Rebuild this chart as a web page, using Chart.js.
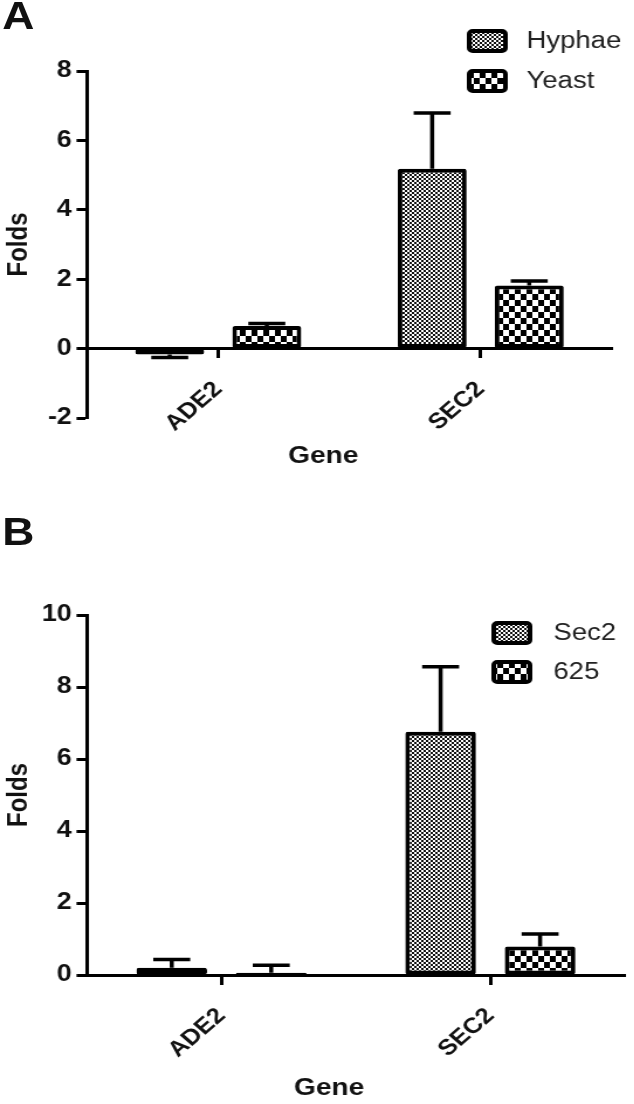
<!DOCTYPE html>
<html>
<head>
<meta charset="utf-8">
<script src="https://cdn.jsdelivr.net/npm/chart.js@4.4.1/dist/chart.umd.min.js"></script>
<style>
  html, body { margin: 0; background: #fff; overflow: hidden; }
  /* the original figure is stretched horizontally, so the whole page is drawn narrow and scaled */
  #fig { position: absolute; left: 0; top: 0; width: 542px; height: 1104px; transform: scaleX(1.17); transform-origin: 0 0; }
  .panel { position: absolute; left: 0; display: block; }
  .tag { position: absolute; left: 2px; font: bold 38px 'Liberation Sans', Arial, sans-serif; line-height: 38px; color: #111; }
</style>
</head>
<body>
<div id="fig">
  <canvas id="chartA" class="panel" width="542" height="480" style="top:0"></canvas>
  <div class="tag" style="top:-3px">A</div>
  <canvas id="chartB" class="panel" width="542" height="604" style="top:500px"></canvas>
  <div class="tag" style="top:513px">B</div>
</div>
<script>
// datos
const genes = ['ADE2', 'SEC2'];

// panel A
const hyphaeFolds = [-0.17, 5.18];
const hyphaeErr   = [0.09, 1.61];
const yeastFolds  = [0.65, 1.82];
const yeastErr    = [0.07, 0.13];
const ticksA = { min: -2, max: 8, step: 2 };

// panel B
const sec2Folds   = [0.2, 6.76];
const sec2Err     = [0.23, 1.8];
const s625Folds   = [0.06, 0.79];
const s625Err     = [0.21, 0.35];
const ticksB = { min: 0, max: 10, step: 2 };

const FONT = "'Liberation Sans', Arial, sans-serif";
const INK = '#111';

// fine dotted fill (Hyphae / Sec2)
function finePattern() {
  const c = document.createElement('canvas');
  c.width = 4; c.height = 4;
  const g = c.getContext('2d');
  g.fillStyle = '#fff'; g.fillRect(0, 0, 4, 4);
  g.fillStyle = '#111';
  g.fillRect(0, 0, 2, 2); g.fillRect(2, 2, 2, 2);
  return g.createPattern(c, 'repeat');
}

// coarse checker fill (Yeast / 625)
function coarsePattern() {
  const c = document.createElement('canvas');
  c.width = 10; c.height = 12;
  const g = c.getContext('2d');
  g.fillStyle = '#fff'; g.fillRect(0, 0, 10, 12);
  g.fillStyle = '#000';
  g.fillRect(0, 0, 5, 6); g.fillRect(5, 6, 5, 6);
  return g.createPattern(c, 'repeat');
}

// error bars, away from zero
const errorBars = {
  id: 'errorBars',
  afterDatasetsDraw(chart, args, opts) {
    const { ctx } = chart;
    const y = chart.scales.y;
    ctx.save();
    ctx.strokeStyle = '#000';
    ctx.lineWidth = opts.width;
    chart.data.datasets.forEach((ds, i) => {
      chart.getDatasetMeta(i).data.forEach((bar, j) => {
        const v = ds.data[j], e = ds.errors[j];
        const base = y.getPixelForValue(v);
        const tip = y.getPixelForValue(v < 0 ? v - e : v + e);
        ctx.beginPath();
        ctx.moveTo(bar.x, base); ctx.lineTo(bar.x, tip);
        ctx.moveTo(bar.x - opts.cap / 2, tip); ctx.lineTo(bar.x + opts.cap / 2, tip);
        ctx.stroke();
      });
    });
    ctx.restore();
  }
};

// legend with the pattern boxes, top right
const patternLegend = {
  id: 'patternLegend',
  afterDraw(chart, args, opts) {
    const { ctx, chartArea } = chart;
    ctx.save();
    chart.data.datasets.forEach((ds, i) => {
      const cy = opts.rows[i];
      const bx = chartArea.right - opts.fromRight;
      ctx.beginPath();
      ctx.roundRect(bx + 2, cy - 10, 31, 20, 3);
      ctx.fillStyle = ds.backgroundColor;
      ctx.fill();
      ctx.lineWidth = 4;
      ctx.strokeStyle = '#000';
      ctx.stroke();
      ctx.fillStyle = '#222';
      ctx.font = '23.5px ' + FONT;
      ctx.textBaseline = 'middle';
      ctx.fillText(ds.label, bx + opts.textGap, cy + 1);
    });
    ctx.restore();
  }
};

// x title, placed under the labels like in Prism
const xTitle = {
  id: 'xTitle',
  afterDraw(chart, args, opts) {
    const { ctx, chartArea } = chart;
    const y0 = chart.scales.y.getPixelForValue(0);
    ctx.save();
    ctx.font = 'bold 24px ' + FONT;
    ctx.fillStyle = INK;
    ctx.textAlign = 'center';
    ctx.textBaseline = 'middle';
    ctx.fillText(opts.text, chartArea.left + chartArea.width * 0.45, y0 + opts.drop);
    ctx.restore();
  }
};

function buildChart(id, cfg) {
  const fine = finePattern(), coarse = coarsePattern();
  const barStyle = {
    borderColor: '#000',
    borderWidth: 4,
    borderSkipped: false,
    borderRadius: 2,
    categoryPercentage: 0.74,
    barPercentage: 0.71
  };
  return new Chart(document.getElementById(id), {
    type: 'bar',
    data: {
      labels: genes,
      datasets: [
        { label: cfg.names[0], data: cfg.values[0], errors: cfg.errors[0], backgroundColor: fine, ...barStyle },
        { label: cfg.names[1], data: cfg.values[1], errors: cfg.errors[1], backgroundColor: coarse, ...barStyle }
      ]
    },
    plugins: [errorBars, patternLegend, xTitle],
    options: {
      responsive: false,
      animation: false,
      // the x axis sits on y = 0 and takes no layout room, so the bottom is reserved here
      layout: { padding: { top: cfg.top, right: cfg.right, left: 0, bottom: cfg.bottom } },
      scales: {
        x: {
          position: { y: 0 },
          offset: true,
          grid: { display: true, offset: false, drawOnChartArea: false, drawTicks: true, tickLength: 8, tickWidth: 3, tickColor: '#000' },
          border: { display: true, color: '#000', width: 3 },
          ticks: { color: INK, font: { family: FONT, size: 22, weight: 'bold' }, maxRotation: 45, minRotation: 45, padding: 20 }
        },
        y: {
          min: cfg.ticks.min,
          max: cfg.ticks.max,
          grid: { display: true, drawOnChartArea: false, drawTicks: true, tickLength: 9, tickWidth: 3, tickColor: '#000' },
          border: { display: true, color: '#000', width: 3 },
          ticks: { stepSize: cfg.ticks.step, color: INK, font: { family: FONT, size: 23, weight: 'bold' }, padding: 4 },
          title: { display: true, text: 'Folds', color: INK, font: { family: FONT, size: 24, weight: 'bold' }, padding: { top: 2, bottom: 0 } },
          afterFit: s => { s.width = 74.4; }
        }
      },
      plugins: {
        legend: { display: false },
        tooltip: { enabled: false },
        errorBars: { width: 3.5, cap: 31.6 },
        patternLegend: cfg.legend,
        xTitle: { text: 'Gene', drop: cfg.titleDrop }
      }
    }
  });
}

buildChart('chartA', {
  names: ['Hyphae', 'Yeast'],
  values: [hyphaeFolds, yeastFolds],
  errors: [hyphaeErr, yeastErr],
  ticks: ticksA,
  top: 71, right: 19, bottom: 62, titleDrop: 108,
  legend: { rows: [41, 81], fromRight: 124, textGap: 51 }
});

buildChart('chartB', {
  names: ['Sec2', '625'],
  values: [sec2Folds, s625Folds],
  errors: [sec2Err, s625Err],
  ticks: ticksB,
  top: 115, right: 8, bottom: 129, titleDrop: 113,
  legend: { rows: [133, 172], fromRight: 114, textGap: 53 }
});
</script>
</body>
</html>
